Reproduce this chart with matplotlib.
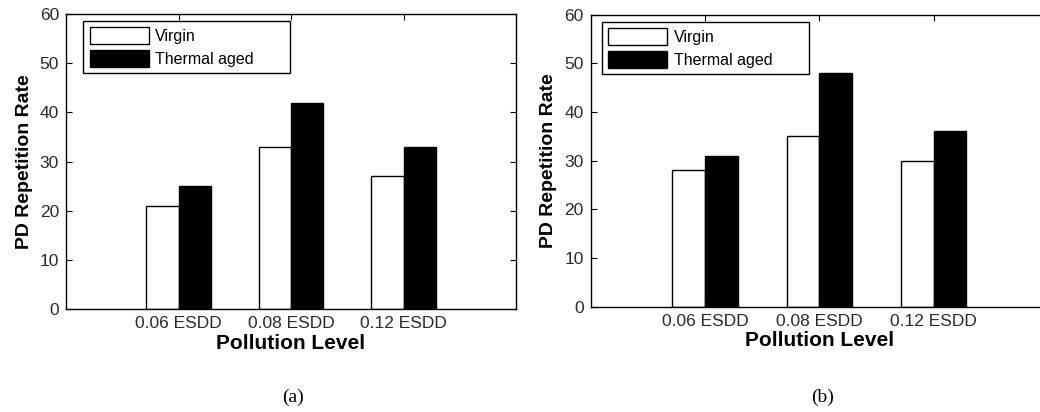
import matplotlib
matplotlib.use('Agg')
import matplotlib.pyplot as plt
import numpy as np

plt.rcParams['font.family'] = ['Liberation Sans', 'DejaVu Sans']

# data
levels = ['0.06 ESDD', '0.08 ESDD', '0.12 ESDD']
virgin_a = [21, 33, 27]
thermal_a = [25, 42, 33]
virgin_b = [28, 35, 30]
thermal_b = [31, 48, 36]
series_names = ['Virgin', 'Thermal aged']
captions = ['(a)', '(b)']

fig = plt.figure(figsize=(10.4, 4.12), dpi=100)

# axes boxes in figure fractions (left, bottom, width, height)
boxes = [[0.0635, 0.250, 0.4327, 0.716],
         [0.5678, 0.2556, 0.440, 0.709]]
cap_x = [0.2817, 0.791]
leg_anchor = [(0.038, 0.976), (0.025, 0.975)]

panels = [(virgin_a, thermal_a), (virgin_b, thermal_b)]
x = np.arange(1, len(levels) + 1)
w = 0.285

for i, (virgin, thermal) in enumerate(panels):
    ax = fig.add_axes(boxes[i])
    ax.bar(x - w / 2, virgin, w, color='white', edgecolor='black',
           linewidth=1.0, label=series_names[0])
    ax.bar(x + w / 2, thermal, w, color='black', edgecolor='black',
           linewidth=1.0, label=series_names[1])
    ax.set_xlim(0, 4)
    ax.set_ylim(0, 60)
    ax.set_xticks(x)
    ax.set_xticklabels(levels)
    ax.set_yticks(range(0, 61, 10))
    ax.tick_params(direction='in', length=4, width=0.8, top=True, right=True,
                   labelsize=12.5, labelcolor='#2a2a2a', pad=5)
    for s in ax.spines.values():
        s.set_linewidth(1.0)
    ax.set_xlabel('Pollution Level', fontsize=15, fontweight='bold', labelpad=2)
    ax.set_ylabel('PD Repetition Rate', fontsize=14, fontweight='bold', labelpad=5)
    bw = 207 / (boxes[i][2] * 1040)
    leg = ax.legend(loc='upper left', bbox_to_anchor=(leg_anchor[i][0], 0, bw, leg_anchor[i][1]),
                    mode='expand', borderaxespad=0, fancybox=False, framealpha=1,
                    edgecolor='black', fontsize=11.5, handlelength=3.7,
                    handleheight=1.2, labelspacing=0.4, borderpad=0.4,
                    handletextpad=0.4)
    leg.get_frame().set_linewidth(1.0)
    fig.text(cap_x[i], 0.036, captions[i], fontsize=14, family='Liberation Serif',
             ha='center', va='center')

fig.savefig('out.png', dpi=100)
